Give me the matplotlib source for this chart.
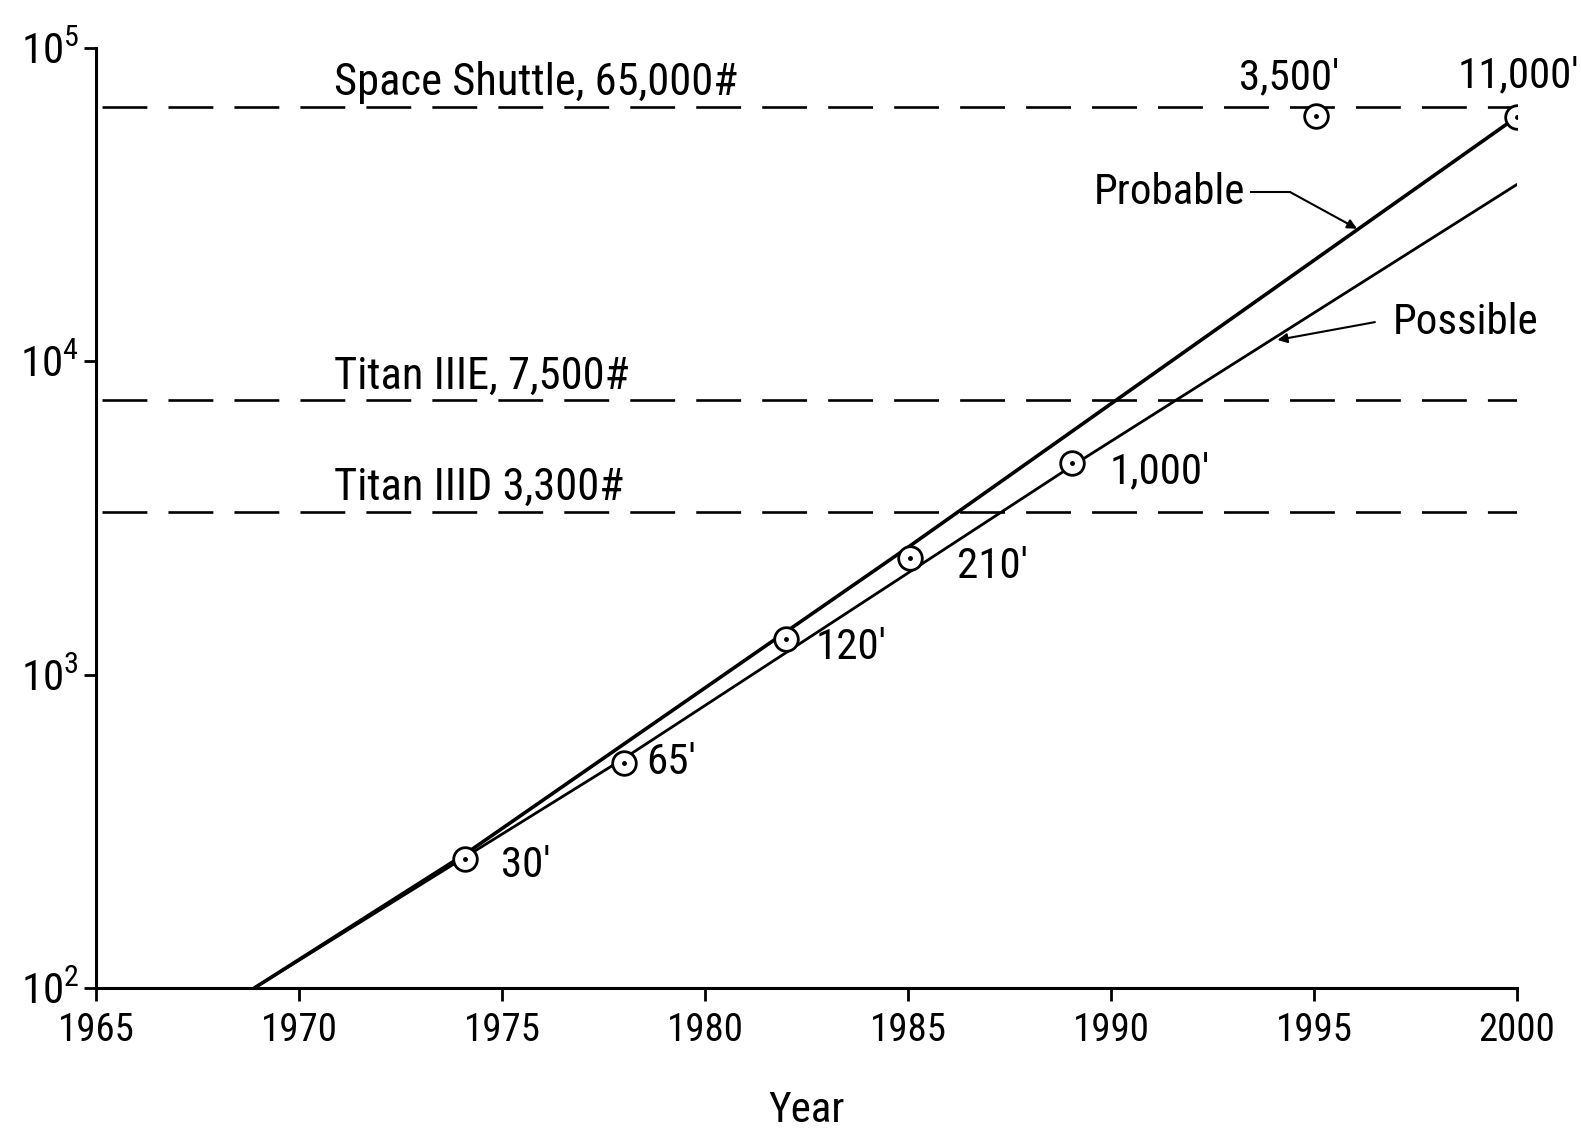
import numpy as np
import matplotlib
matplotlib.use("Agg")
import matplotlib.pyplot as plt
from matplotlib import font_manager

# --- data ---
probable_years = [1968.9, 1974.1, 1985.0, 2000.0]
probable_vals = [100, 268, 2550, 60300]

possible_years = [1968.9, 1978.0, 1989.0, 2000.0]
possible_vals = [100, 540, 4600, 36700]

point_years = [1974.1, 1978.0, 1982.0, 1985.05, 1989.05, 1995.05, 2000.0]
point_vals = [258, 524, 1303, 2365, 4720, 60500, 60300]
point_labels = ["30'", "65'", "120'", "210'", "1,000'", "3,500'", "11,000'"]

ref_names = ["Space Shuttle, 65,000#", "Titan IIIE, 7,500#", "Titan IIID 3,300#"]
ref_vals = [65000, 7500, 3300]

x_ticks = [1965, 1970, 1975, 1980, 1985, 1990, 1995, 2000]
y_ticks = [1e2, 1e3, 1e4, 1e5]

# --- pick a narrow font if one is there ---
names = {f.name for f in font_manager.fontManager.ttflist}
narrow = None
for cand in ["Liberation Sans Narrow", "Roboto Condensed", "Open Sans Condensed",
             "DejaVu Sans Condensed", "Noto Sans Condensed"]:
    if cand in names:
        narrow = cand
        break
if narrow is None:
    narrow = "DejaVu Sans"
plt.rcParams['font.family'] = [narrow, 'DejaVu Sans']
plt.rcParams['mathtext.fontset'] = 'dejavuserif'

dpi = 100
fig = plt.figure(figsize=(1581 / dpi, 1131 / dpi), dpi=dpi)
ax = fig.add_axes([96 / 1581, 1 - 988 / 1131, 1421 / 1581, 940 / 1131])
ax.set_yscale('log')
ax.set_xlim(1965, 2000)
ax.set_ylim(100, 1e5)

for s in ['top', 'right']:
    ax.spines[s].set_visible(False)
for s in ['left', 'bottom']:
    ax.spines[s].set_linewidth(2.2)

ax.set_xticks(x_ticks)
ax.set_xticklabels([str(t) for t in x_ticks], fontsize=28)
ax.set_yticks(y_ticks)
ax.set_yticklabels([r'$\mathregular{10^{%d}}$' % int(np.log10(v)) for v in y_ticks], fontsize=31)
ax.yaxis.set_minor_locator(matplotlib.ticker.NullLocator())
ax.tick_params(axis='both', direction='out', length=9, width=2.0, pad=8)
ax.tick_params(axis='y', pad=3)

# reference payload lines
for name, v in zip(ref_names, ref_vals):
    ax.axhline(v, xmin=0.004, xmax=1.0, color='black', lw=1.9, linestyle=(0, (17, 8)))
    ax.annotate(name, xy=(1970.85, v), xytext=(0, 12), textcoords='offset pixels',
                ha='left', va='baseline', fontsize=32)

# growth curves
ax.plot(probable_years, probable_vals, color='black', lw=2.6, solid_capstyle='round')
ax.plot(possible_years, possible_vals, color='black', lw=2.0, solid_capstyle='round')

# data points: open circle with a dot
ax.plot(point_years, point_vals, linestyle='none', marker='o', markersize=17,
        markerfacecolor='white', markeredgecolor='black', markeredgewidth=2.0, zorder=5)
ax.plot(point_years, point_vals, linestyle='none', marker='o', markersize=2.5,
        color='black', zorder=6)

offsets = [(60, -6), (47, 0), (65, -9), (82, -9), (87, -8), (-27, 39), (1, 41)]
for x, y, lab, off in zip(point_years, point_vals, point_labels, offsets):
    ax.annotate(lab, xy=(x, y), xytext=off, textcoords='offset pixels',
                ha='center', va='center', fontsize=31)

# Probable / Possible callouts
ax.text(1993.3, 34700, 'Probable', ha='right', va='center', fontsize=31)
ax.plot([1993.45, 1994.41], [34700, 34700], color='black', lw=1.5)
ax.annotate('', xy=(1996.06, 26500), xytext=(1994.41, 34700),
            arrowprops=dict(arrowstyle='-|>', lw=1.5, color='black',
                            mutation_scale=14, shrinkA=0, shrinkB=0))

ax.text(1996.95, 13340, 'Possible', ha='left', va='center', fontsize=31)
ax.annotate('', xy=(1994.1, 11700), xytext=(1996.5, 13340),
            arrowprops=dict(arrowstyle='-|>', lw=1.5, color='black',
                            mutation_scale=14, shrinkA=0, shrinkB=0))

ax.set_xlabel('Year', fontsize=31, labelpad=30)

fig.savefig('out.png', dpi=dpi)
